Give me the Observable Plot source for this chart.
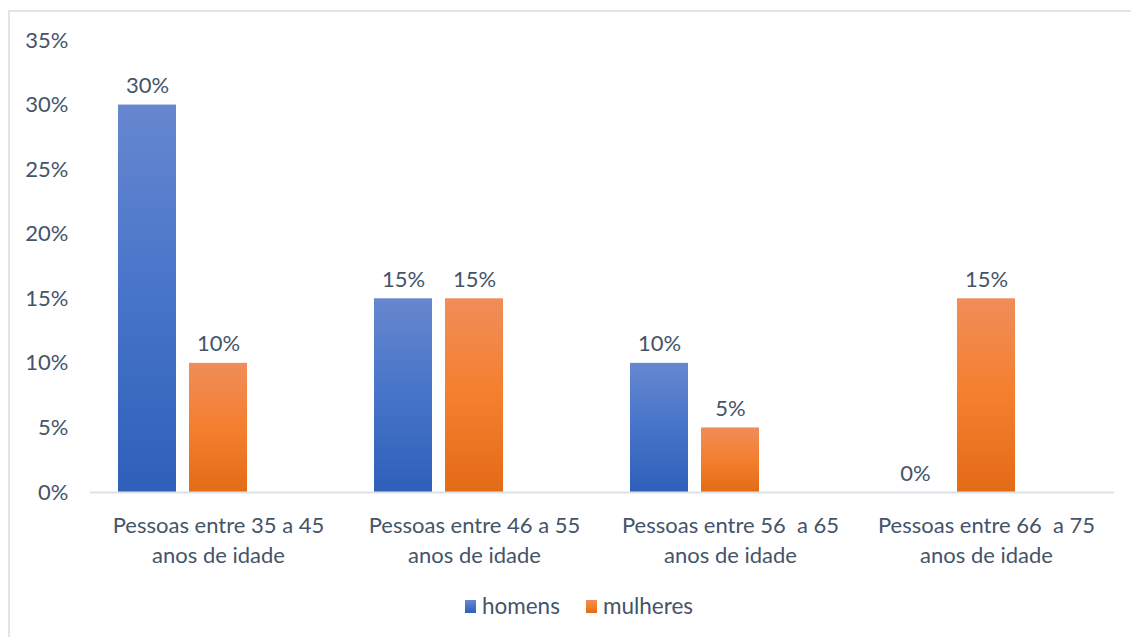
<!DOCTYPE html>
<html>
<head>
<meta charset="utf-8">
<script src="https://cdn.jsdelivr.net/npm/d3@7"></script>
<script src="https://cdn.jsdelivr.net/npm/@observablehq/plot@0.6"></script>
<style>
  html, body { margin: 0; padding: 0; background: #fff; overflow: hidden; width: 1131px; height: 637px; }
  #frame { position: absolute; left: 8px; top: 10px; width: 1200px; height: 700px; border: 2px solid #e1e5eb; box-sizing: border-box; }
  #chart { position: absolute; left: 0; top: 0; }
  #legend { position: absolute; top: 591px; left: 0; width: 1131px; display: flex; justify-content: center; gap: 26px;
            font-family: Lato, "Open Sans", sans-serif; font-size: 22.5px; line-height: 30px; color: #44546a; padding-left: 27px; box-sizing: border-box; }
  .item { display: flex; align-items: center; gap: 6px; }
  .sw { width: 11px; height: 13px; display: inline-block; }
</style>
</head>
<body>
<div id="frame"></div>
<div id="chart"></div>
<div id="legend"></div>
<script>
const categories = [
  "Pessoas entre 35 a 45\nanos de idade",
  "Pessoas entre 46 a 55\nanos de idade",
  "Pessoas entre 56\u00a0 a 65\nanos de idade",
  "Pessoas entre 66\u00a0 a 75\nanos de idade"
];
const seriesNames = ["homens", "mulheres"];
const homens = [0.30, 0.15, 0.10, 0.00];
const mulheres = [0.10, 0.15, 0.05, 0.15];
const yTicks = [0, 0.05, 0.10, 0.15, 0.20, 0.25, 0.30, 0.35];

const gradIds = {homens: "gradBlue", mulheres: "gradOrange"};
const gradStops = {
  homens: ["#6787cf", "#4674c9", "#2f5fb9"],
  mulheres: ["#f08d5a", "#f47f2e", "#e46b17"]
};

const data = [];
categories.forEach((c, i) => {
  data.push({cat: c, series: "homens", value: homens[i]});
  data.push({cat: c, series: "mulheres", value: mulheres[i]});
});

const fmt = d => Math.round(d * 100) + "%";
const font = "Lato, 'Open Sans', sans-serif";
const fs = 22;

const plot = Plot.plot({
  width: 1131,
  height: 575,
  marginLeft: 90,
  marginRight: 17,
  marginTop: 40,
  marginBottom: 83,
  style: {fontFamily: font, fontSize: fs + "px", color: "#44546a", background: "transparent"},
  fx: {domain: categories, padding: 0, axis: null},
  x: {domain: ["homens", "mulheres", "_"], paddingInner: 0.183, paddingOuter: 0.394, axis: null},
  y: {domain: [0, 0.35], ticks: yTicks, tickFormat: fmt, label: null},
  marks: [
    Plot.axisY({ticks: yTicks, tickFormat: fmt, tickSize: 0, tickPadding: 22, label: null, fontSize: fs, fill: "#44546a"}),
    Plot.barY(data.filter(d => d.series === "homens"), {fx: "cat", x: "series", y: "value", fill: "url(#gradBlue)"}),
    Plot.barY(data.filter(d => d.series === "mulheres"), {fx: "cat", x: "series", y: "value", fill: "url(#gradOrange)"}),
    Plot.ruleY([0], {stroke: "#dde1e8", strokeWidth: 2}),
    Plot.text(data, {fx: "cat", x: "series", y: "value", text: d => fmt(d.value), dy: -19, fill: "#44546a", fontSize: fs}),
    Plot.text(categories, {fx: d => d, frameAnchor: "bottom", text: d => d, lineAnchor: "top", dy: 19, lineHeight: 30 / fs, fill: "#44546a", fontSize: fs})
  ]
});

// gradient definitions
const defs = d3.select(plot).insert("defs", ":first-child");
seriesNames.forEach(s => {
  const g = defs.append("linearGradient").attr("id", gradIds[s]).attr("x1", 0).attr("y1", 0).attr("x2", 0).attr("y2", 1);
  g.append("stop").attr("offset", "0%").attr("stop-color", gradStops[s][0]);
  g.append("stop").attr("offset", "50%").attr("stop-color", gradStops[s][1]);
  g.append("stop").attr("offset", "100%").attr("stop-color", gradStops[s][2]);
});

document.getElementById("chart").appendChild(plot);

const legend = document.getElementById("legend");
seriesNames.forEach(s => {
  const item = document.createElement("div");
  item.className = "item";
  const sw = document.createElement("span");
  sw.className = "sw";
  sw.style.background = `linear-gradient(${gradStops[s][0]}, ${gradStops[s][1]}, ${gradStops[s][2]})`;
  const t = document.createElement("span");
  t.textContent = s;
  item.appendChild(sw);
  item.appendChild(t);
  legend.appendChild(item);
});
</script>
</body>
</html>
